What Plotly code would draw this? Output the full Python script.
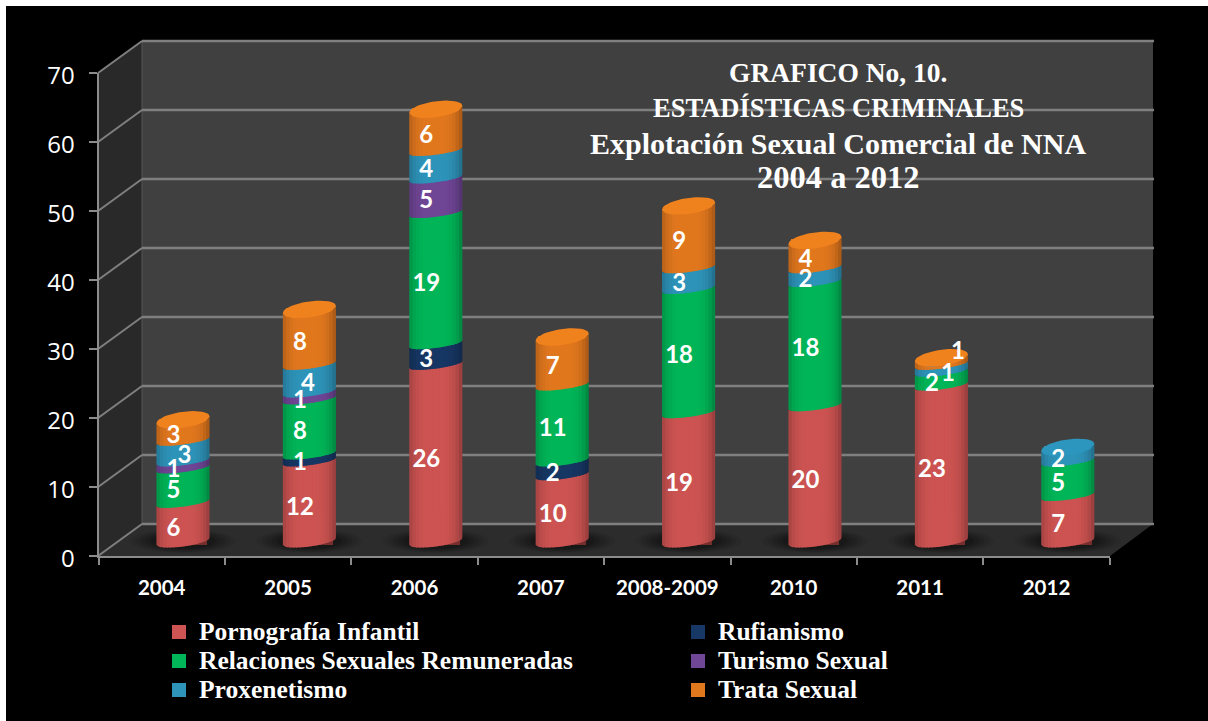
import math
import plotly.graph_objects as go

categories = ["2004", "2005", "2006", "2007", "2008-2009", "2010", "2011", "2012"]
pornografia = [6, 12, 26, 10, 19, 20, 23, 7]
rufianismo = [0, 1, 3, 2, 0, 0, 0, 0]
relaciones = [5, 8, 19, 11, 18, 18, 2, 5]
turismo = [1, 1, 5, 0, 0, 0, 0, 0]
proxenetismo = [3, 4, 4, 0, 3, 2, 1, 2]
trata = [3, 8, 6, 7, 9, 4, 1, 0]
series_names = ["Pornografía Infantil", "Rufianismo", "Relaciones Sexuales Remuneradas",
                "Turismo Sexual", "Proxenetismo", "Trata Sexual"]
series_values = [pornografia, rufianismo, relaciones, turismo, proxenetismo, trata]
series_colors = [(205, 84, 82), (23, 55, 100), (0, 182, 88), (112, 70, 150), (46, 148, 186), (226, 120, 30)]
top_colors = [(205, 84, 82), (30, 70, 120), (0, 190, 95), (120, 76, 160), (44, 150, 190), (240, 130, 30)]
y_ticks = [0, 10, 20, 30, 40, 50, 60, 70]
title_lines = ["GRAFICO No, 10.", "ESTADÍSTICAS CRIMINALES",
               "Explotación Sexual Comercial de NNA", "2004 a 2012"]
title_y_px = [73, 108, 143, 177]
title_sizes = [27.5, 26.5, 30, 32.5]
# label nudges in pixels: (series index, category index) -> (dx, dy)
label_nudge = {(4, 0): (11, 0), (4, 1): (8, 0), (4, 6): (16, 0), (5, 6): (26, -15)}

W, H = 1208, 721
PXU = 6.9          # pixels per value unit
CAT = 126.4        # pixels per category
BASE_Y = 544
SEM_X = 0.21
TILT = 3.5


def rgb(c, f=1.0):
    return "rgb(%d,%d,%d)" % tuple(min(255, int(v * f)) for v in c)


def px(x):
    return x / W


def py(y):
    return 1 - y / H


def poly(points):
    return "M" + " L".join("%.5f,%.5f" % (px(a), py(b)) for a, b in points) + " Z"


shapes = [
    dict(type="rect", xref="paper", yref="paper", x0=px(6), x1=1, y0=0, y1=py(6),
         fillcolor="black", line_width=0, layer="below"),
    dict(type="path", xref="paper", yref="paper", path=poly([(142, 41), (1153, 41), (1153, 524), (142, 524)]),
         fillcolor="#404040", line_width=0, layer="below"),
    dict(type="path", xref="paper", yref="paper", path=poly([(98, 73), (142, 41), (142, 524), (98, 556)]),
         fillcolor="#292929", line_width=0, layer="below"),
    dict(type="path", xref="paper", yref="paper", path=poly([(98, 556), (1110, 556), (1153, 524), (142, 524)]),
         fillcolor="#2c2c2c", line_width=0, layer="below"),
    dict(type="line", xref="paper", yref="paper", x0=px(142), x1=px(142), y0=py(41), y1=py(524),
         line=dict(color="#555555", width=1), layer="below"),
]
for v in y_ticks:
    yb = 524 - v * PXU
    yf = 556 - v * PXU
    shapes.append(dict(type="line", xref="paper", yref="paper", x0=px(142), x1=px(1154), y0=py(yb), y1=py(yb),
                       line=dict(color="#7f7f7f", width=2.5), layer="below"))
    shapes.append(dict(type="line", xref="paper", yref="paper", x0=px(98), x1=px(142), y0=py(yf), y1=py(yb),
                       line=dict(color="#7f7f7f", width=2), layer="below"))
for i in range(len(categories)):
    for rx, ry, a in [(0.42, 12, 0.06), (0.38, 11, 0.08), (0.34, 10, 0.10), (0.30, 9, 0.12), (0.26, 8, 0.15)]:
        shapes.append(dict(type="circle", xref="x2", yref="y", x0=i - rx, x1=i + rx,
                           y0=-(ry - 3) / PXU, y1=(ry + 3) / PXU,
                           fillcolor="rgba(0,0,0,%.2f)" % a, line_width=0, layer="below"))

fig = go.Figure()

for name, vals, col in zip(series_names, series_values, series_colors):
    fig.add_trace(go.Bar(x=categories, y=vals, name=name, width=0.36, xaxis="x", yaxis="y",
                         marker=dict(color=rgb(col), line=dict(color=rgb(col), width=2)), hoverinfo="skip"))

# cylinder shading built from the cumulative data values
K = 16
edges = [-1 + 2 * k / K for k in range(K + 1)]


def curve(level, b, u):
    lift = 2.5 if level == 0 else 0
    return level + (lift + TILT * u - b * math.sqrt(max(0, 1 - u * u))) / PXU


n = len(categories)
cum = [0] * n
for s, (vals, col) in enumerate(zip(series_values, series_colors)):
    for k in range(K):
        u1, u2 = edges[k], edges[k + 1]
        um = (u1 + u2) / 2
        shade = 1 - 0.24 * abs(um + 0.05) ** 3.5
        xs, ys = [], []
        for i in range(n):
            if vals[i] == 0:
                continue
            lo, hi = cum[i], cum[i] + vals[i]
            is_top = all(series_values[t][i] == 0 for t in range(s + 1, 6))
            blo = 5 if lo == 0 else 4
            bhi = 8 if is_top else 4
            us = [min(1, u1 + (u2 + 0.06 - u1) * j / 4) for j in range(5)]
            xs += [i + SEM_X * q for q in us] + [i + SEM_X * q for q in reversed(us)] + [None]
            ys += [curve(lo, blo, q) for q in us] + [curve(hi, bhi, q) for q in reversed(us)] + [None]
        if xs:
            fig.add_trace(go.Scatter(x=xs, y=ys, mode="lines", fill="toself", fillcolor=rgb(col, shade),
                                     line=dict(width=0), xaxis="x2", yaxis="y", showlegend=False,
                                     hoverinfo="skip"))
    cum = [c + v for c, v in zip(cum, vals)]

# top caps
cum = [sum(series_values[s][i] for s in range(6)) for i in range(n)]
for s, col in enumerate(top_colors):
    xs, ys = [], []
    for i in range(n):
        tops = [t for t in range(6) if series_values[t][i] > 0]
        if tops[-1] != s:
            continue
        for j in range(49):
            th = 2 * math.pi * j / 48
            u, w = math.cos(th), math.sin(th)
            xs.append(i + SEM_X * u)
            ys.append(cum[i] + (TILT * u + 8 * w) / PXU)
        xs.append(None)
        ys.append(None)
    if xs:
        fig.add_trace(go.Scatter(x=xs, y=ys, mode="lines", fill="toself", fillcolor=rgb(col),
                                 line=dict(width=0), xaxis="x2", yaxis="y", showlegend=False, hoverinfo="skip"))

# data labels
cum = [0] * n
for s, vals in enumerate(series_values):
    xs, ys, tx = [], [], []
    for i in range(n):
        if vals[i]:
            dx, dy = label_nudge.get((s, i), (0, 0))
            xs.append(i + (-9.5 + dx) / CAT)
            ys.append(cum[i] + vals[i] / 2 - (6.5 + dy) / PXU)
            tx.append(str(vals[i]))
    fig.add_trace(go.Scatter(x=xs, y=ys, text=tx, mode="text", textposition="middle center",
                             textfont=dict(family="Lato", size=24, color="white", weight="bold"),
                             xaxis="x2", yaxis="y", showlegend=False, hoverinfo="skip"))
    cum = [c + v for c, v in zip(cum, vals)]

# visible axes
fig.add_trace(go.Scatter(x=categories, y=[0] * n, mode="markers", marker=dict(opacity=0, size=1),
                         xaxis="x3", yaxis="y3", showlegend=False, hoverinfo="skip"))

fig.update_layout(
    width=W, height=H, autosize=False,
    margin=dict(l=0, r=0, t=0, b=0, autoexpand=False),
    paper_bgcolor="white", plot_bgcolor="rgba(0,0,0,0)",
    barmode="stack", shapes=shapes,
    xaxis=dict(domain=[px(119.8), px(119.8 + 8 * CAT)], type="category", categoryorder="array",
               categoryarray=categories, visible=False, anchor="y"),
    xaxis2=dict(domain=[px(119.8), px(119.8 + 8 * CAT)], range=[-0.5, 7.5], visible=False, anchor="y"),
    yaxis=dict(domain=[py(BASE_Y + 3 * PXU), py(BASE_Y - 70 * PXU)], range=[-3, 70], visible=False, anchor="x"),
    xaxis3=dict(domain=[px(98.5), px(98.5 + 8 * CAT)], type="category", categoryorder="array",
                categoryarray=categories, range=[-0.5, 7.5], anchor="y3", showgrid=False, zeroline=False,
                showline=True, linecolor="#8c8c8c", linewidth=2, ticks="outside", ticklen=7, tickwidth=1.5,
                tickcolor="#8c8c8c", tickson="boundaries", ticklabelstandoff=12,
                tickfont=dict(family="Lato", size=20.5, color="white", weight="bold")),
    yaxis3=dict(domain=[py(556), py(73)], range=[0, 70], anchor="x3", tickvals=y_ticks, showgrid=False,
                zeroline=False, showline=True, linecolor="#8c8c8c", linewidth=2, ticks="outside", ticklen=8,
                tickwidth=1.5, tickcolor="#8c8c8c", ticklabelstandoff=9, ticklabelshift=3,
                tickfont=dict(family="Open Sans", size=24, color="white")),
    legend=dict(orientation="h", x=px(159), xanchor="left", y=py(612.5), yanchor="top",
                entrywidth=474, entrywidthmode="pixels", bgcolor="rgba(0,0,0,0)", traceorder="normal",
                font=dict(family="Liberation Serif", size=20, color="white", weight="bold"),
                itemclick=False, itemdoubleclick=False),
    annotations=[dict(text=t, xref="paper", yref="paper", x=px(838), y=py(yp),
                      xanchor="center", yanchor="middle", showarrow=False, align="center",
                      font=dict(family="Liberation Serif", size=fs, color="white", weight="bold"))
                 for t, yp, fs in zip(title_lines, title_y_px, title_sizes)],
    showlegend=True,
)

fig.write_html("out.html", config=dict(displayModeBar=False, responsive=False),
               post_script="document.body.style.margin='0';document.body.style.overflow='hidden';"
                           "document.querySelectorAll('.legendtext').forEach(function(t){t.style.fontSize='25.5px';});")
